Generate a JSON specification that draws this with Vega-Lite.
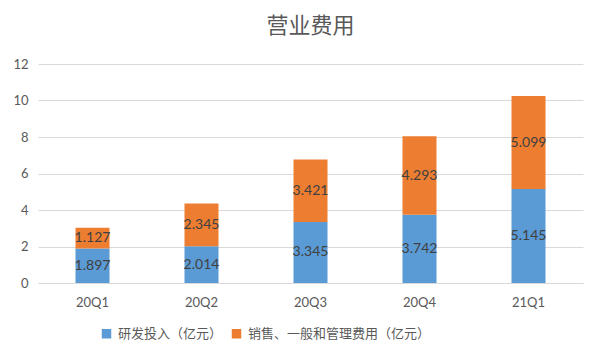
{
  "$schema": "https://vega.github.io/schema/vega-lite/v6.json",
  "width": 545,
  "height": 219,
  "autosize": "none",
  "padding": {"left": 38, "top": 64, "right": 19, "bottom": 79},
  "background": "white",
  "title": {"text": "营业费用", "fontSize": 22, "font": "Noto Sans CJK SC", "fontWeight": "normal", "color": "#595959", "offset": 20, "anchor": "middle"},
  "config": {"view": {"stroke": null}, "font": "Noto Sans CJK SC"},
  "data": {"values": [
    {"q": "20Q1", "s": "研发投入（亿元）", "o": 1, "v": 1.897},
    {"q": "20Q2", "s": "研发投入（亿元）", "o": 1, "v": 2.014},
    {"q": "20Q3", "s": "研发投入（亿元）", "o": 1, "v": 3.345},
    {"q": "20Q4", "s": "研发投入（亿元）", "o": 1, "v": 3.742},
    {"q": "21Q1", "s": "研发投入（亿元）", "o": 1, "v": 5.145},
    {"q": "20Q1", "s": "销售、一般和管理费用（亿元）", "o": 2, "v": 1.127},
    {"q": "20Q2", "s": "销售、一般和管理费用（亿元）", "o": 2, "v": 2.345},
    {"q": "20Q3", "s": "销售、一般和管理费用（亿元）", "o": 2, "v": 3.421},
    {"q": "20Q4", "s": "销售、一般和管理费用（亿元）", "o": 2, "v": 4.293},
    {"q": "21Q1", "s": "销售、一般和管理费用（亿元）", "o": 2, "v": 5.099}
  ]},
  "transform": [
    {"stack": "v", "groupby": ["q"], "sort": [{"field": "o", "order": "ascending"}], "as": ["v0", "v1"]},
    {"calculate": "(datum.v0 + datum.v1) / 2", "as": "vm"}
  ],
  "encoding": {
    "x": {"field": "q", "type": "nominal", "sort": null, "title": null,
      "axis": {"labelAngle": 0, "labelColor": "#595959", "labelFontSize": 13, "labelFont": "Lato", "ticks": false, "domainColor": "#d9d9d9", "labelPadding": 13}}
  },
  "layer": [
    {"mark": {"type": "bar", "size": 34},
     "encoding": {
       "y": {"field": "v0", "type": "quantitative", "title": null,
         "scale": {"domain": [0, 12], "nice": false, "zero": true},
         "axis": {"values": [0, 2, 4, 6, 8, 10, 12], "labelOverlap": false, "domain": false, "ticks": false, "gridColor": "#d9d9d9", "labelColor": "#595959", "labelFontSize": 13, "labelFont": "Lato", "labelPadding": 10}},
       "y2": {"field": "v1"},
       "color": {"field": "s", "type": "nominal", "sort": ["研发投入（亿元）", "销售、一般和管理费用（亿元）"],
       "scale": {"range": ["#5B9BD5", "#ED7D31"]},
       "legend": {"title": null, "orient": "none", "direction": "horizontal", "legendX": 62, "legendY": 263, "symbolType": "square", "symbolSize": 90, "symbolStrokeWidth": 0, "labelFontSize": 13, "labelColor": "#595959", "columnPadding": 7, "labelOffset": 5, "labelLimit": 0, "labelFont": "Noto Sans CJK SC"}}}},
    {"mark": {"type": "text", "color": "#404040", "fontSize": 14, "font": "Lato"},
     "encoding": {
       "y": {"field": "vm", "type": "quantitative", "title": null,
         "scale": {"domain": [0, 12], "nice": false, "zero": true},
         "axis": {"values": [0, 2, 4, 6, 8, 10, 12], "labelOverlap": false, "domain": false, "ticks": false, "gridColor": "#d9d9d9", "labelColor": "#595959", "labelFontSize": 13, "labelFont": "Lato", "labelPadding": 10}},
       "text": {"field": "v", "type": "quantitative", "format": ".3f"}}}
  ]
}
